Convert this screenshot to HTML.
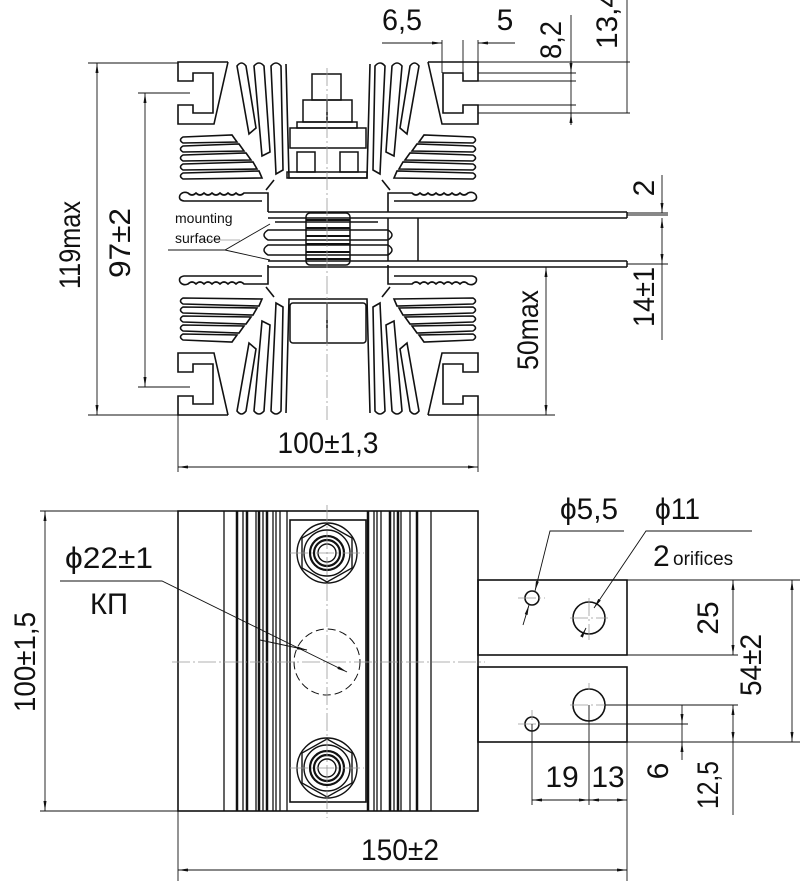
<!DOCTYPE html>
<html><head><meta charset="utf-8"><style>
html,body{margin:0;padding:0;background:#fff}
svg{display:block}
text{font-family:"Liberation Sans Narrow","Liberation Sans",sans-serif;fill:#111}
.t{font-weight:300}
</style></head><body>
<svg width="800" height="881" viewBox="0 0 800 881" xmlns="http://www.w3.org/2000/svg">
<defs>
<marker id="a" viewBox="0 0 10 4" refX="10" refY="2" markerWidth="10" markerHeight="4" orient="auto-start-reverse" markerUnits="userSpaceOnUse"><path d="M0,0.5 L10,2 L0,3.5z" fill="#111"/></marker>
<g id="q" fill="none" stroke="#111" stroke-width="1.6">
<path d="M228,62 L178,62 L178,81 L193,81 L193,73 L213,73 L213,113 L193,113 L193,105 L178,105 L178,124 L214,124 L228,62"/>
<path d="M237,66 q4.5,-6 9,0 L256,128 L249,134 Z"/>
<path d="M254,66 q5,-6 10,0 L270,152 L262,156 Z"/>
<path d="M271,66 q5,-6 10,0 L283,170 L276,174 Z"/>
<path d="M183,137 L232,135 L237,142 L183,143 q-5,-3 0,-6Z"/>
<path d="M183,146 L239,144 L244,151 L183,152 q-5,-3 0,-6Z"/>
<path d="M183,155 L246,153 L251,160 L183,161 q-5,-3 0,-6Z"/>
<path d="M183,164 L253,162 L257,169 L183,170 q-5,-3 0,-6Z"/>
<path d="M183,173 L259,171 L262,178 L183,179 q-5,-3 0,-6Z"/>
<path d="M180,195 q3,-4 8,-2 q4,4 8,0 q4,4 8,0 q4,4 8,0 q4,4 8,0 q4,4 8,0 q4,4 8,0 q4,4 8,0 L258,193 L268,193 L268,212 M180,195 q-2,5 4,6 L262,201"/>
<path d="M286,64 L289,178 L328,178"/>
<path d="M266,190 L274,180"/>
</g>
</defs>

<use href="#q"/>
<use href="#q" transform="translate(656,0) scale(-1,1)"/>
<use href="#q" transform="translate(0,477) scale(1,-1)"/>
<use href="#q" transform="translate(656,477) scale(-1,-1)"/>
<g fill="none" stroke="#111" stroke-width="1.5">
<rect x="312" y="74" width="29" height="26"/>
<rect x="303" y="100" width="49" height="22"/><line x1="327" y1="100" x2="327" y2="122"/>
<rect x="297" y="122" width="60" height="6"/>
<rect x="290" y="128" width="76" height="20"/>
<rect x="297" y="152" width="18" height="20"/><rect x="340" y="152" width="18" height="20"/>
<rect x="287" y="172" width="80" height="6"/>
<line x1="268" y1="212" x2="627" y2="212"/><line x1="268" y1="218" x2="627" y2="218"/>
<line x1="627" y1="212" x2="627" y2="218"/>
<line x1="268" y1="261" x2="627" y2="261"/><line x1="268" y1="267" x2="627" y2="267"/>
<line x1="627" y1="261" x2="627" y2="267"/>
<line x1="418" y1="218" x2="418" y2="261"/>
<line x1="388" y1="218" x2="388" y2="261"/>
<path d="M275,222 L378,222 M268,230 q-8,5 0,10 L388,240 q8,-5 0,-10Z M268,245 q-8,5 0,10 L388,255 q8,-5 0,-10Z"/>
<rect x="306" y="213" width="44" height="52" rx="4"/>
<path d="M306,220 h44 M306,228 h44 M306,236 h44 M306,244 h44 M306,252 h44 M306,259 h44" stroke-width="2"/>
<rect x="290" y="303" width="76" height="40" rx="3"/><line x1="327" y1="303" x2="327" y2="343"/>
</g>
<line x1="327" y1="68" x2="327" y2="420" stroke="#999" stroke-width="0.8" stroke-dasharray="18,3,2,3"/>

<g fill="none" stroke="#111" stroke-width="0.9">
<path d="M168,250 L225,250 L270,224"/><path d="M225,250 L270,260"/>
<line x1="88" y1="63" x2="178" y2="63"/><line x1="88" y1="415" x2="178" y2="415"/>
<line x1="97" y1="63" x2="97" y2="415" marker-start="url(#a)" marker-end="url(#a)"/>
<line x1="138" y1="93" x2="190" y2="93"/><line x1="138" y1="387" x2="190" y2="387"/>
<line x1="145" y1="93" x2="145" y2="387" marker-start="url(#a)" marker-end="url(#a)"/>
<line x1="178" y1="415" x2="178" y2="472"/><line x1="478" y1="415" x2="478" y2="472"/>
<line x1="178" y1="467" x2="478" y2="467" marker-start="url(#a)" marker-end="url(#a)"/>
<line x1="546" y1="267" x2="546" y2="415" marker-start="url(#a)" marker-end="url(#a)"/>
<line x1="478" y1="415" x2="555" y2="415"/>
<line x1="627" y1="215" x2="668" y2="215"/><line x1="627" y1="213" x2="668" y2="213"/>
<line x1="627" y1="264" x2="668" y2="264"/>
<line x1="662" y1="175" x2="662" y2="205"/>
<line x1="662" y1="200" x2="662" y2="213" marker-end="url(#a)"/>
<line x1="662" y1="232" x2="662" y2="218" marker-end="url(#a)"/>
<line x1="662" y1="232" x2="662" y2="264" marker-end="url(#a)"/>
<line x1="662" y1="264" x2="662" y2="340"/>
<line x1="442" y1="40" x2="442" y2="73"/><line x1="463" y1="40" x2="463" y2="73"/><line x1="478" y1="40" x2="478" y2="62"/>
<line x1="382" y1="43" x2="442" y2="43" /><line x1="428" y1="43" x2="442" y2="43" marker-end="url(#a)"/>
<line x1="515" y1="43" x2="478" y2="43"/><line x1="492" y1="43" x2="478" y2="43" marker-end="url(#a)"/>
<line x1="478" y1="73" x2="576" y2="73"/><line x1="478" y1="81" x2="576" y2="81"/>
<line x1="478" y1="105" x2="576" y2="105"/><line x1="478" y1="113" x2="630" y2="113"/>
<line x1="478" y1="62" x2="630" y2="62"/>
<line x1="571" y1="15" x2="571" y2="125"/>
<line x1="571" y1="60" x2="571" y2="73" marker-end="url(#a)"/>
<line x1="571" y1="125" x2="571" y2="113" marker-end="url(#a)"/>
<line x1="627" y1="0" x2="627" y2="113"/>
</g>
<line x1="200" y1="240" x2="240" y2="240" stroke="#999" stroke-width="0.8"/>

<g class="t">
<text x="0" y="0" font-size="30" transform="translate(80,245) rotate(-90)" text-anchor="middle" textLength="88" lengthAdjust="spacingAndGlyphs">119max</text>
<text x="0" y="0" font-size="30" transform="translate(130,243) rotate(-90)" text-anchor="middle" textLength="70" lengthAdjust="spacingAndGlyphs">97±2</text>
<text x="328" y="453" font-size="30" text-anchor="middle" textLength="101" lengthAdjust="spacingAndGlyphs">100±1,3</text>
<text x="0" y="0" font-size="30" transform="translate(538,330) rotate(-90)" text-anchor="middle" textLength="80" lengthAdjust="spacingAndGlyphs">50max</text>
<text x="0" y="0" font-size="30" transform="translate(654,297) rotate(-90)" text-anchor="middle" textLength="60" lengthAdjust="spacingAndGlyphs">14±1</text>
<text x="0" y="0" font-size="30" transform="translate(654,188) rotate(-90)" text-anchor="middle">2</text>
<text x="402" y="30" font-size="30" text-anchor="middle" textLength="40" lengthAdjust="spacingAndGlyphs">6,5</text>
<text x="505" y="30" font-size="30" text-anchor="middle">5</text>
<text x="0" y="0" font-size="30" transform="translate(561,40) rotate(-90)" text-anchor="middle" textLength="38" lengthAdjust="spacingAndGlyphs">8,2</text>
<text x="0" y="0" font-size="30" transform="translate(617,20) rotate(-90)" text-anchor="middle" textLength="58" lengthAdjust="spacingAndGlyphs">13,4</text>
</g>
<text x="175" y="223" font-size="14" style="font-family:'Liberation Sans',sans-serif">mounting</text>
<text x="175" y="243" font-size="14" style="font-family:'Liberation Sans',sans-serif">surface</text>

<g fill="none" stroke="#111" stroke-width="1.6">
<rect x="178" y="511" width="300" height="300"/>
<rect x="290" y="520" width="76" height="282"/>
<rect x="478" y="580" width="149" height="75"/>
<rect x="478" y="667" width="149" height="75"/>
<circle cx="532" cy="598" r="7"/><circle cx="589" cy="618" r="16"/>
<circle cx="589" cy="705" r="16"/><circle cx="532" cy="724" r="7"/>
</g>
<g stroke="#111" stroke-width="1.3">
<line x1="224" y1="511" x2="224" y2="811"/><line x1="237" y1="511" x2="237" y2="811" stroke-width="2.5"/>
<line x1="243" y1="511" x2="243" y2="811"/><line x1="247" y1="511" x2="247" y2="811" stroke-width="2.5"/>
<line x1="256" y1="511" x2="256" y2="811"/><line x1="259" y1="511" x2="259" y2="811" stroke-width="2.5"/>
<line x1="263" y1="511" x2="263" y2="811"/><line x1="267" y1="511" x2="267" y2="811" stroke-width="2.5"/>
<line x1="273" y1="511" x2="273" y2="811"/><line x1="276" y1="511" x2="276" y2="811"/>
<line x1="280" y1="511" x2="280" y2="811"/><line x1="287" y1="511" x2="287" y2="811"/>
<line x1="368" y1="511" x2="368" y2="811" stroke-width="2.5"/><line x1="374" y1="511" x2="374" y2="811"/>
<line x1="377" y1="511" x2="377" y2="811"/><line x1="381" y1="511" x2="381" y2="811"/>
<line x1="390" y1="511" x2="390" y2="811" stroke-width="2.5"/><line x1="394" y1="511" x2="394" y2="811"/>
<line x1="398" y1="511" x2="398" y2="811" stroke-width="2.5"/><line x1="401" y1="511" x2="401" y2="811"/>
<line x1="410" y1="511" x2="410" y2="811"/><line x1="417" y1="511" x2="417" y2="811" stroke-width="2.5"/>
<line x1="431" y1="511" x2="431" y2="811"/>
</g>
<g id="bolt" fill="none" stroke="#111" stroke-width="1.4">
<circle cx="327" cy="553" r="30"/>
<polygon points="327,524 352,538 352,568 327,582 302,568 302,538"/>
<circle cx="327" cy="553" r="23"/><circle cx="327" cy="553" r="17" stroke-width="2.2"/>
<circle cx="327" cy="553" r="13" stroke-width="2.2"/><circle cx="327" cy="553" r="9"/>
</g>
<use href="#bolt" transform="translate(0,215)"/>
<circle cx="327" cy="662" r="33" fill="none" stroke="#111" stroke-width="1" stroke-dasharray="8,4"/>
<g stroke="#999" stroke-width="0.8" stroke-dasharray="18,3,2,3" fill="none">
<line x1="327" y1="505" x2="327" y2="818"/>
<line x1="172" y1="662" x2="485" y2="662"/>
<line x1="290" y1="553" x2="364" y2="553"/><line x1="290" y1="768" x2="364" y2="768"/>
<line x1="518" y1="598" x2="545" y2="598"/><line x1="570" y1="618" x2="608" y2="618"/>
<line x1="589" y1="598" x2="589" y2="640"/>
<line x1="518" y1="724" x2="545" y2="724"/><line x1="570" y1="705" x2="608" y2="705"/>
<line x1="589" y1="683" x2="589" y2="690"/><line x1="532" y1="710" x2="532" y2="720"/>
</g>
<g fill="none" stroke="#111" stroke-width="0.9">
<path d="M60,581 L162,581 L347,672" marker-end="url(#a)"/>
<line x1="260" y1="640" x2="307" y2="650" marker-end="url(#a)"/>
<path d="M624,531 L550,531 L535,591" marker-end="url(#a)"/>
<line x1="523" y1="625" x2="529" y2="605" marker-end="url(#a)"/>
<path d="M752,531 L646,531 L594,608" marker-end="url(#a)"/>
<line x1="583" y1="634" x2="586" y2="628" marker-end="url(#a)"/>
<line x1="40" y1="511" x2="178" y2="511"/><line x1="40" y1="811" x2="178" y2="811"/>
<line x1="45" y1="511" x2="45" y2="811" marker-start="url(#a)" marker-end="url(#a)"/>
<line x1="178" y1="811" x2="178" y2="881"/><line x1="627" y1="742" x2="627" y2="881"/>
<line x1="178" y1="870" x2="627" y2="870" marker-start="url(#a)" marker-end="url(#a)"/>
<line x1="532" y1="724" x2="532" y2="805"/><line x1="589" y1="705" x2="589" y2="805"/>
<line x1="532" y1="800" x2="589" y2="800" marker-start="url(#a)" marker-end="url(#a)"/>
<line x1="589" y1="800" x2="627" y2="800" marker-start="url(#a)" marker-end="url(#a)"/>
<line x1="627" y1="580" x2="800" y2="580"/><line x1="627" y1="655" x2="738" y2="655"/>
<line x1="627" y1="742" x2="800" y2="742"/>
<line x1="605" y1="705" x2="738" y2="705"/><line x1="540" y1="724" x2="688" y2="724"/>
<line x1="733" y1="580" x2="733" y2="655" marker-start="url(#a)" marker-end="url(#a)"/>
<line x1="733" y1="705" x2="733" y2="742" marker-start="url(#a)" marker-end="url(#a)"/>
<line x1="733" y1="742" x2="733" y2="815"/>
<line x1="682" y1="705" x2="682" y2="724" marker-end="url(#a)"/>
<line x1="682" y1="760" x2="682" y2="742" marker-end="url(#a)"/>
<line x1="682" y1="742" x2="682" y2="724" />
<line x1="792" y1="580" x2="792" y2="742" marker-start="url(#a)" marker-end="url(#a)"/>
</g>
<g class="t">
<text x="0" y="0" font-size="30" transform="translate(35,662) rotate(-90)" text-anchor="middle" textLength="100" lengthAdjust="spacingAndGlyphs">100±1,5</text>
<text x="400" y="860" font-size="30" text-anchor="middle" textLength="78" lengthAdjust="spacingAndGlyphs">150±2</text>
<text x="65" y="568" font-size="30" textLength="88" lengthAdjust="spacingAndGlyphs">ϕ22±1</text>
<text x="90" y="614" font-size="30" textLength="38" lengthAdjust="spacingAndGlyphs">КП</text>
<text x="560" y="519" font-size="30" textLength="58" lengthAdjust="spacingAndGlyphs">ϕ5,5</text>
<text x="655" y="519" font-size="30" textLength="45" lengthAdjust="spacingAndGlyphs">ϕ11</text>
<text x="653" y="566" font-size="30">2</text>
<text x="0" y="0" font-size="30" transform="translate(718,618) rotate(-90)" text-anchor="middle">25</text>
<text x="0" y="0" font-size="30" transform="translate(761,665) rotate(-90)" text-anchor="middle" textLength="62" lengthAdjust="spacingAndGlyphs">54±2</text>
<text x="562" y="787" font-size="30" text-anchor="middle">19</text>
<text x="608" y="787" font-size="30" text-anchor="middle">13</text>
<text x="0" y="0" font-size="30" transform="translate(668,771) rotate(-90)" text-anchor="middle">6</text>
<text x="0" y="0" font-size="30" transform="translate(718,785) rotate(-90)" text-anchor="middle" textLength="48" lengthAdjust="spacingAndGlyphs">12,5</text>
</g>
<text x="673" y="565" font-size="19" style="font-family:'Liberation Sans',sans-serif">orifices</text>
</svg>
</body></html>
